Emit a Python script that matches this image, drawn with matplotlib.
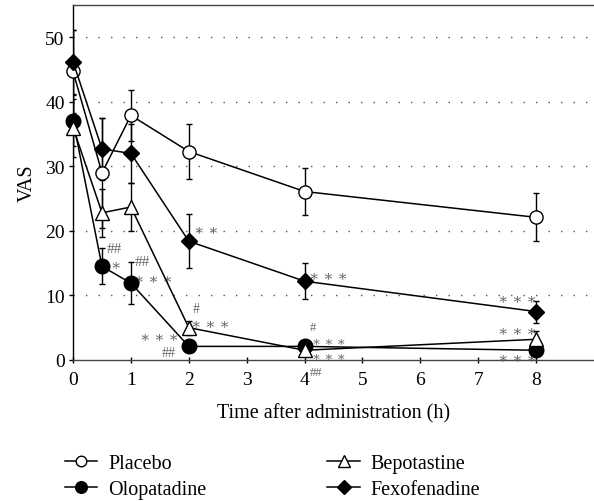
import matplotlib.pyplot as plt
from matplotlib.lines import Line2D

# time points (h) and VAS values
hours = [0, 0.5, 1, 2, 4, 8]

placebo = [44.7, 29.0, 37.9, 32.3, 26.1, 22.1]
placebo_err = [6.5, 8.5, 4.0, 4.2, 3.6, 3.7]

olopatadine = [37.1, 14.5, 11.9, 2.1, 2.1, 1.5]
olopatadine_err = [4.0, 2.8, 3.3, 0.4, 0.5, 0.3]

bepotastine = [36.0, 22.8, 23.7, 5.0, 1.5, 3.2]
bepotastine_err = [4.5, 3.7, 3.7, 1.1, 0.5, 1.3]

fexofenadine = [46.2, 32.7, 32.0, 18.4, 12.2, 7.5]
fexofenadine_err = [5.0, 4.8, 4.6, 4.2, 2.8, 1.7]

# significance marks: (x, y, text, size)
marks = [
    (0.72, 17.2, "##", 11), (0.74, 14.8, "∗", 11),
    (1.2, 15.2, "##", 11), (1.38, 12.4, "∗ ∗ ∗", 11),
    (2.3, 20.0, "∗ ∗", 11),
    (2.12, 8.0, "#", 10), (2.38, 5.5, "∗ ∗ ∗", 11),
    (1.5, 3.5, "∗ ∗ ∗", 11), (1.66, 1.2, "##", 10),
    (4.42, 13.0, "∗ ∗ ∗", 11),
    (4.15, 5.1, "#", 9), (4.42, 2.8, "∗ ∗ ∗", 9.5), (4.42, 0.5, "∗ ∗ ∗", 9.5),
    (4.2, -1.8, "##", 9),
    (7.67, 9.4, "∗ ∗ ∗", 11), (7.67, 4.4, "∗ ∗ ∗", 11), (7.67, 0.3, "∗ ∗ ∗", 11),
]

plt.rcParams['font.family'] = ['Liberation Serif', 'DejaVu Serif']

fig = plt.figure(figsize=(5.94, 5.02), dpi=100)
ax = fig.add_axes([0.123, 0.281, 0.877, 0.707])

styles = [
    ("Placebo", placebo, placebo_err, dict(marker="o", mfc="white", ms=9.5)),
    ("Olopatadine", olopatadine, olopatadine_err, dict(marker="o", mfc="black", ms=10.5)),
    ("Bepotastine", bepotastine, bepotastine_err, dict(marker="^", mfc="white", ms=10.5)),
    ("Fexofenadine", fexofenadine, fexofenadine_err, dict(marker="D", mfc="black", ms=8.5)),
]

for name, vals, err, st in styles:
    lines = ax.errorbar(hours, vals, yerr=err, color="black", lw=1.1, elinewidth=1.0,
                        capsize=2.5, capthick=1.0, mec="black", mew=1.0, zorder=3, **st)
    lines[0].set_clip_on(False)

for x, y, t, size in marks:
    ax.text(x, y, t, color="#666666", fontsize=size, ha="center", va="center")

ax.set_xlim(0, 9)
ax.set_ylim(0, 55)
ax.set_xticks(range(0, 9))
ax.set_yticks(range(0, 51, 10))
ax.tick_params(labelsize=14, length=3, width=1, direction="out", pad=3)
ax.tick_params(axis="x", direction="inout", length=4, pad=6)
for y in range(10, 51, 10):
    ax.axhline(y, color="#555555", lw=1.0, ls=(0, (1, 8)), zorder=1)

ax.spines["right"].set_visible(False)
for s in ["left", "bottom", "top"]:
    ax.spines[s].set_linewidth(1.0)
ax.spines["bottom"].set_color("#444444")
ax.spines["top"].set_color("#444444")

ax.set_xlabel("Time after administration (h)", fontsize=14.5, labelpad=11)
ax.set_ylabel("VAS", fontsize=14.5, labelpad=6)

handles = [Line2D([], [], color="black", lw=1.1, mec="black", **st)
           for _, _, _, st in styles]
labels = [s[0] for s in styles]
fig.legend(handles, labels, ncol=2, loc="upper left", bbox_to_anchor=(0.096, 0.11),
           frameon=False, fontsize=14.5, handlelength=1.6, handletextpad=0.55,
           columnspacing=6.0, labelspacing=0.35, borderaxespad=0, markerscale=0.8)

fig.savefig("out.png", dpi=100)
